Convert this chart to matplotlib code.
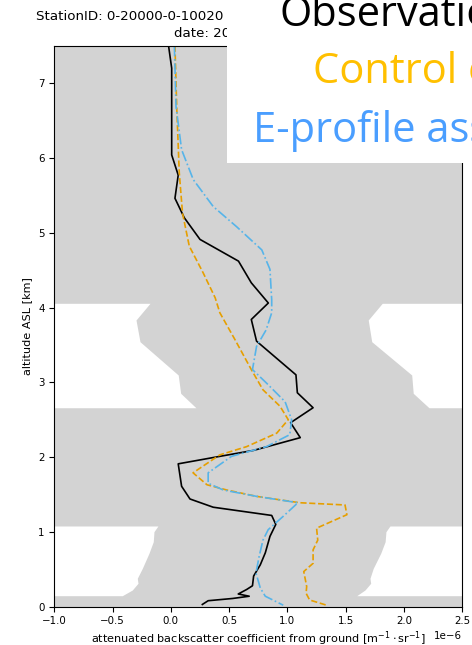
import numpy as np
import matplotlib.pyplot as plt
from matplotlib.patches import Rectangle

SCALE = 1e-6  # values below are in 1e-6 m-1 sr-1

# observation profile
obs_alt = [7.5, 7.2, 6.04, 5.77, 5.46, 5.20, 4.91, 4.62, 4.33, 4.06, 3.84, 3.55,
           3.10, 2.86, 2.66, 2.46, 2.26, 2.09, 2.01, 1.91, 1.61, 1.44, 1.33, 1.22,
           1.10, 0.94, 0.72, 0.56, 0.41, 0.28, 0.23, 0.17, 0.14, 0.11, 0.08, 0.03]
obs_val = [-0.02, 0.007, 0.007, 0.063, 0.035, 0.115, 0.25, 0.58, 0.69, 0.836, 0.69, 0.735,
           1.073, 1.085, 1.22, 1.027, 1.11, 0.71, 0.42, 0.063, 0.092, 0.164, 0.363, 0.865,
           0.90, 0.85, 0.81, 0.767, 0.71, 0.70, 0.65, 0.578, 0.672, 0.53, 0.32, 0.27]

# control run
ctl_alt = [7.5, 6.69, 5.80, 5.26, 4.82, 4.46, 4.13, 3.93, 3.57, 3.17, 2.90, 2.68,
           2.50, 2.32, 2.14, 2.03, 1.79, 1.63, 1.56, 1.475, 1.39, 1.36, 1.23, 1.05,
           0.89, 0.76, 0.58, 0.47, 0.27, 0.18, 0.09, 0.02]
ctl_val = [0.035, 0.05, 0.072, 0.10, 0.158, 0.278, 0.38, 0.42, 0.55, 0.69, 0.79, 0.936,
           1.007, 0.908, 0.65, 0.42, 0.19, 0.31, 0.48, 0.735, 1.105, 1.494, 1.51, 1.25,
           1.26, 1.22, 1.22, 1.14, 1.165, 1.16, 1.19, 1.336]

# E-profile assimilation run
epf_alt = [7.5, 6.69, 6.11, 5.71, 5.35, 5.08, 4.77, 4.51, 4.10, 3.93, 3.70, 3.48,
           3.17, 2.99, 2.74, 2.50, 2.30, 2.14, 2.01, 1.79, 1.65, 1.56, 1.475, 1.39,
           1.21, 1.03, 0.89, 0.67, 0.45, 0.25, 0.14, 0.02]
epf_val = [0.03, 0.044, 0.092, 0.192, 0.363, 0.564, 0.78, 0.85, 0.865, 0.865, 0.817, 0.735,
           0.70, 0.82, 0.98, 1.036, 1.02, 0.82, 0.52, 0.32, 0.32, 0.45, 0.735, 1.09,
           0.965, 0.835, 0.79, 0.757, 0.73, 0.767, 0.81, 0.964]

# grey envelope
env_alt = [0.0, 0.147, 0.147, 0.223, 0.313, 0.380, 0.513, 0.714, 0.869, 1.003, 1.079, 1.079,
           2.660, 2.660, 2.853, 3.098, 3.543, 3.833, 4.056, 4.056, 7.5]
env_lo = [-1.0, -1.0, -0.417, -0.331, -0.282, -0.288, -0.245, -0.188, -0.151, -0.145, -0.111, -1.0,
          -1.0, 0.215, 0.084, 0.063, -0.265, -0.299, -0.179, -1.0, -1.0]
env_hi = [2.5, 2.5, 1.594, 1.665, 1.714, 1.708, 1.736, 1.80, 1.838, 1.845, 1.879, 2.5,
          2.5, 2.214, 2.079, 2.066, 1.723, 1.693, 1.813, 2.5, 2.5]

plt.rcParams['font.size'] = 7.4

W, H = 472, 645
fig = plt.figure(figsize=(W / 100, H / 100), dpi=100)
ax = fig.add_axes([54.3 / W, 1 - 606.7 / H, 408 / W, 561 / H])

ax.fill_betweenx(env_alt, np.array(env_lo) * SCALE, np.array(env_hi) * SCALE,
                 color='lightgrey', linewidth=0)
ax.plot(np.array(obs_val) * SCALE, obs_alt, color='black', lw=1.2)
ax.plot(np.array(ctl_val) * SCALE, ctl_alt, color='#E69F00', lw=1.2, ls='--')
ax.plot(np.array(epf_val) * SCALE, epf_alt, color='#56B4E9', lw=1.2, ls='-.')

ax.set_xlim(-1.0e-6, 2.5e-6)
ax.set_ylim(0, 7.5)
ax.set_xlabel(r'attenuated backscatter coefficient from ground [m$^{-1}\cdot$sr$^{-1}$]',
              fontsize=8.1, labelpad=2)
ax.set_ylabel('altitude ASL [km]', fontsize=8.1)

fig.text(36 / W, 1 - 16.5 / H, 'StationID: 0-20000-0-10020',
         fontsize=9.6, va='center', ha='left')
fig.text(174 / W, 1 - 33.5 / H, 'date: 2021-02-16',
         fontsize=9.6, va='center', ha='left')

# pasted slide legend box
fig.add_artist(Rectangle((226.7 / W, 1 - 162.7 / H), 1, 162.7 / H,
                         transform=fig.transFigure, facecolor='white',
                         edgecolor='none', zorder=5))
fig.text(280 / W, 1 - 26 / H, 'Observation', color='black', fontsize=30,
         family='Open Sans', va='baseline', ha='left', zorder=6)
fig.text(313 / W, 1 - 83 / H, 'Control experiment', color='#FFC000', fontsize=30,
         family='Open Sans', va='baseline', ha='left', zorder=6)
fig.text(253 / W, 1 - 142 / H, 'E-profile assimilation', color='#4A9EFF', fontsize=30,
         family='Open Sans', va='baseline', ha='left', zorder=6)

fig.savefig('out.png', dpi=100)
